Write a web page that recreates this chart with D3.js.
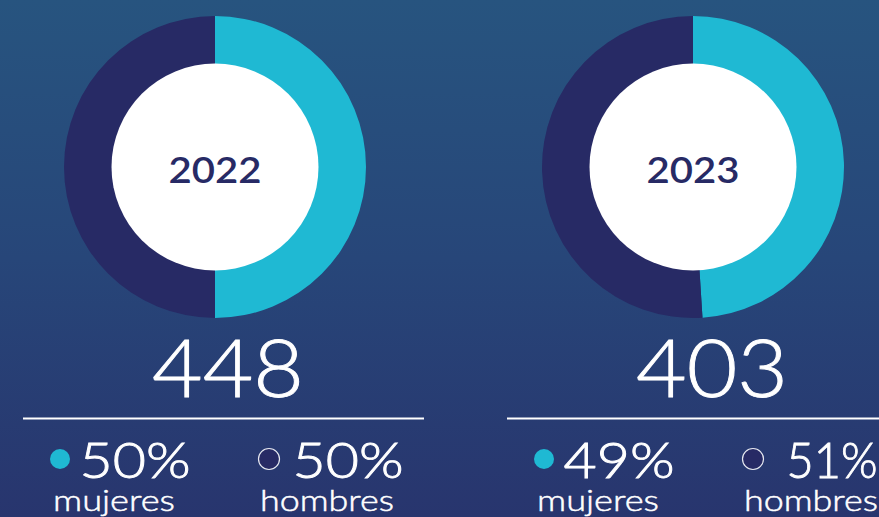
<!DOCTYPE html>
<html>
<head>
<meta charset="utf-8">
<script src="https://cdn.jsdelivr.net/npm/d3@7"></script>
<style>
  html, body { margin: 0; padding: 0; overflow: hidden; }
  svg { display: block; }
  text { font-family: Lato, "Open Sans", sans-serif; }
</style>
</head>
<body>
<div id="chartContainer"></div>
<script>
// data
var years = ["2022", "2023"];
var totals = [448, 403];
var mujeres = [50, 49];   // % women (cyan)
var hombres = [50, 51];   // % men (dark)
var labels = ["mujeres", "hombres"];

var width = 879, height = 517;
var colors = ["#1fb9d3", "#272a65"];

var svg = d3.select("#chartContainer").append("svg")
    .attr("width", width)
    .attr("height", height);

// background gradient
var grad = svg.append("defs").append("linearGradient")
    .attr("id", "bg").attr("x1", 0).attr("y1", 0).attr("x2", 0).attr("y2", 1);
grad.append("stop").attr("offset", "0%").attr("stop-color", "#27547f");
grad.append("stop").attr("offset", "50%").attr("stop-color", "#274679");
grad.append("stop").attr("offset", "100%").attr("stop-color", "#28356e");
svg.append("rect").attr("width", width).attr("height", height).attr("fill", "url(#bg)");

var pie = d3.pie().sort(null).value(function(d) { return d; });
var arc = d3.arc().innerRadius(100).outerRadius(151);

// panel layout (x positions per panel)
var donutX = [215, 693];
var panelX = [224, 708];

// light white text, thickened a little with a stroke
function whiteText(sel, size, thick) {
  return sel.attr("text-anchor", "middle")
    .attr("font-size", size)
    .attr("font-weight", 300)
    .attr("fill", "#fff")
    .attr("stroke", "#fff")
    .attr("stroke-width", thick)
    .attr("lengthAdjust", "spacingAndGlyphs");
}

years.forEach(function(year, i) {
  var g = svg.append("g");

  // donut
  var dg = g.append("g").attr("transform", "translate(" + donutX[i] + ",167)");
  dg.selectAll("path")
    .data(pie([mujeres[i], hombres[i]]))
    .enter().append("path")
    .attr("d", arc)
    .attr("fill", function(d, k) { return colors[k]; });
  dg.append("circle").attr("r", 103.5).attr("fill", "#fff");
  dg.append("text")
    .attr("y", 16)
    .attr("text-anchor", "middle")
    .attr("font-size", 36)
    .attr("font-weight", 600)
    .attr("fill", "#272a65")
    .attr("textLength", 93)
    .attr("lengthAdjust", "spacingAndGlyphs")
    .text(year);

  var cx = panelX[i];

  // total
  whiteText(g.append("text"), 80, 0.9)
    .attr("x", cx + 4)
    .attr("y", 397)
    .attr("textLength", 152)
    .text(totals[i]);

  // separator line
  g.append("line")
    .attr("x1", cx - 201).attr("x2", cx + 200)
    .attr("y1", 418.5).attr("y2", 418.5)
    .attr("stroke", "#fff").attr("stroke-width", 2);

  // legend: women
  g.append("circle")
    .attr("cx", cx - 164).attr("cy", 459).attr("r", 10)
    .attr("fill", colors[0]);
  whiteText(g.append("text"), 50, 0.9)
    .attr("x", cx - 89).attr("y", 477.5)
    .attr("textLength", 111)
    .text(mujeres[i] + "%");
  whiteText(g.append("text"), 30, 0.5)
    .attr("x", cx - 110).attr("y", 511)
    .attr("textLength", 122)
    .text(labels[0]);

  // legend: men
  g.append("circle")
    .attr("cx", cx + 45).attr("cy", 459).attr("r", 10.5)
    .attr("fill", colors[1])
    .attr("stroke", "#e6e8f0").attr("stroke-width", 1.2);
  var menW = String(hombres[i]).indexOf("1") >= 0 ? 91 : 111;
  whiteText(g.append("text"), 50, 0.9)
    .attr("x", cx + 124).attr("y", 477.5)
    .attr("textLength", menW)
    .text(hombres[i] + "%");
  whiteText(g.append("text"), 30, 0.5)
    .attr("x", cx + 103).attr("y", 511)
    .attr("textLength", 134)
    .text(labels[1]);
});
</script>
</body>
</html>
